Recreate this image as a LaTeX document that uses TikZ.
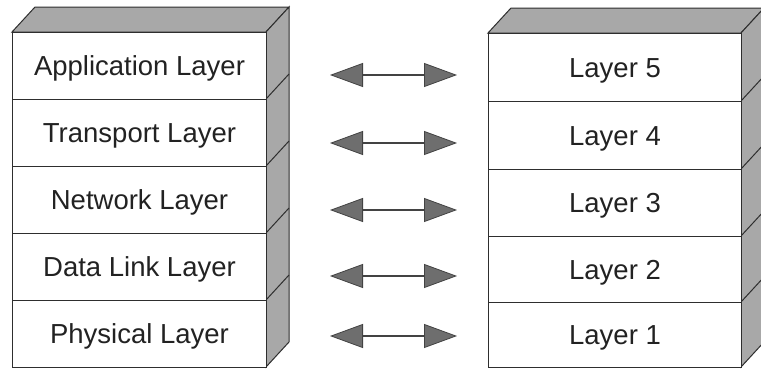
\documentclass[tikz,border=0pt]{standalone}
\usepackage{fontspec}
\setmainfont{Liberation Sans}
\usetikzlibrary{arrows.meta}
\definecolor{edge}{HTML}{2E2E2E}
\definecolor{face}{HTML}{A8A8A8}
\definecolor{headfill}{HTML}{6E6E6E}
\definecolor{ink}{HTML}{222222}
\tikzset{
  layerbox/.style={draw=edge, line width=1pt, fill=white, minimum width=254pt,
    minimum height=67pt, inner sep=0pt, text=ink, font=\fontsize{27.5}{30}\selectfont,
    text height=19.7pt, text depth=0pt, anchor=north west},
  sideface/.style={draw=edge, line width=1pt, fill=face},
  exchange/.style={draw=edge!90, line width=1.3pt,
    {Triangle[length=33pt,width=24pt,fill=headfill,line width=0.8pt]}-{Triangle[length=33pt,width=24pt,fill=headfill,line width=0.8pt]}}
}
\begin{document}
\begin{tikzpicture}[x=1pt,y=-1pt]
\useasboundingbox (0,0) rectangle (761,370);
\fill[white] (0,0) rectangle (761,370);

% left stack: faces behind the rows
\path[sideface] (12,32) -- (35,7) -- (289,7) -- (266,32) -- cycle;
\path[sideface] (266,32) -- (289,7) -- (289,342) -- (266,367) -- cycle;
\foreach \y in {99,166,233,300}
  \draw[edge, line width=1pt] (266,\y) -- (289,\y-25);
\node[layerbox] (L5) at (12,32)  {Application Layer};
\node[layerbox] (L4) at (12,99)  {Transport Layer};
\node[layerbox] (L3) at (12,166) {Network Layer};
\node[layerbox] (L2) at (12,233) {Data Link Layer};
\node[layerbox] (L1) at (12,300) {Physical Layer};

% right stack
\path[sideface] (488,33) -- (511,8) -- (764,8) -- (741,33) -- cycle;
\path[sideface] (741,33) -- (764,8) -- (764,342) -- (741,367) -- cycle;
\foreach \y in {101,169,236,302}
  \draw[edge, line width=1pt] (741,\y) -- (764,\y-25);
\node[layerbox, minimum width=253pt, minimum height=68pt] (R5) at (488,33)  {Layer 5};
\node[layerbox, minimum width=253pt, minimum height=68pt] (R4) at (488,101) {Layer 4};
\node[layerbox, minimum width=253pt, minimum height=67pt] (R3) at (488,169) {Layer 3};
\node[layerbox, minimum width=253pt, minimum height=66pt] (R2) at (488,236) {Layer 2};
\node[layerbox, minimum width=253pt, minimum height=65pt] (R1) at (488,302) {Layer 1};

% peer-to-peer exchanges between matching layers
\foreach \n/\y in {5/75,4/143,3/210,2/276,1/336}{
  \coordinate (a\n) at (330,\y);
  \coordinate (b\n) at (457,\y);
  \draw[exchange] (a\n) -- (b\n);
}
\end{tikzpicture}
\end{document}
